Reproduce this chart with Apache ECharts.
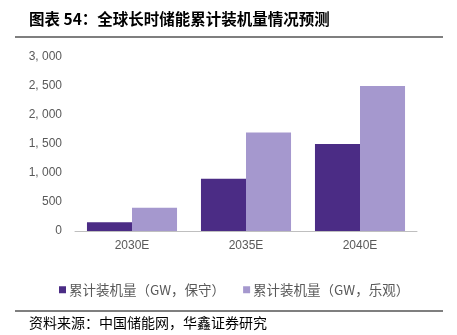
<!DOCTYPE html>
<html><head><meta charset="utf-8">
<script src="https://cdn.jsdelivr.net/npm/echarts@6/dist/echarts.min.js"></script>
<style>html,body{margin:0;padding:0;background:#fff}#c{width:457px;height:335px}</style>
</head><body><div id="c"></div>
<script>
var categories = ['2030E', '2035E', '2040E'];
var conservative = [150, 900, 1500];
var optimistic = [400, 1700, 2500];
var seriesNames = ['累计装机量（GW，保守）', '累计装机量（GW，乐观）'];
var titleText = '图表 54：全球长时储能累计装机量情况预测';
var sourceText = '资料来源：中国储能网，华鑫证券研究';

var chart = echarts.init(document.getElementById('c'));
var cjk = '"Noto Sans CJK SC", sans-serif';
chart.setOption({
  animation: false,
  backgroundColor: '#fff',
  title: [
    {text: titleText, left: 24, top: 6, textStyle: {fontFamily: cjk, fontSize: 15.5, fontWeight: 'bold', color: '#000'}},
    {text: sourceText, left: 24, top: 311, textStyle: {fontFamily: cjk, fontSize: 14, fontWeight: 'normal', color: '#000'}}
  ],
  graphic: [
    {type: 'line', shape: {x1: 15, y1: 37, x2: 443, y2: 37}, style: {stroke: '#7f7f7f', lineWidth: 2}},
    {type: 'line', shape: {x1: 15, y1: 311, x2: 443, y2: 311}, style: {stroke: '#7f7f7f', lineWidth: 2}}
  ],
  legend: {
    left: 54, top: 278, itemWidth: 7, itemHeight: 7, itemGap: 18,
    icon: 'rect',
    textStyle: {fontFamily: cjk, fontSize: 13.5, color: '#595959', padding: [0, 0, 0, -2]},
    data: seriesNames
  },
  grid: {left: 75, right: 40, top: 57, bottom: 104, containLabel: false},
  xAxis: {
    type: 'category', data: categories,
    axisLine: {lineStyle: {color: '#bfbfbf'}},
    axisTick: {inside: true, length: 4, lineStyle: {color: '#bfbfbf'}},
    axisLabel: {color: '#595959', fontSize: 12, fontFamily: 'Liberation Sans', margin: 9}
  },
  yAxis: {
    type: 'value', min: 0, max: 3000, interval: 500,
    splitLine: {show: false}, axisLine: {show: false}, axisTick: {show: false},
    axisLabel: {color: '#595959', fontSize: 12, fontFamily: 'Liberation Sans', margin: 13,
      formatter: function (v) { return String(v).replace(/\B(?=(\d{3})+(?!\d))/g, ', '); }}
  },
  series: [
    {name: seriesNames[0], type: 'bar', data: conservative, barGap: '0%', barCategoryGap: '21%', itemStyle: {color: '#4b2c85'}},
    {name: seriesNames[1], type: 'bar', data: optimistic, barGap: '0%', barCategoryGap: '21%', itemStyle: {color: '#a598ce'}}
  ]
});
</script></body></html>
